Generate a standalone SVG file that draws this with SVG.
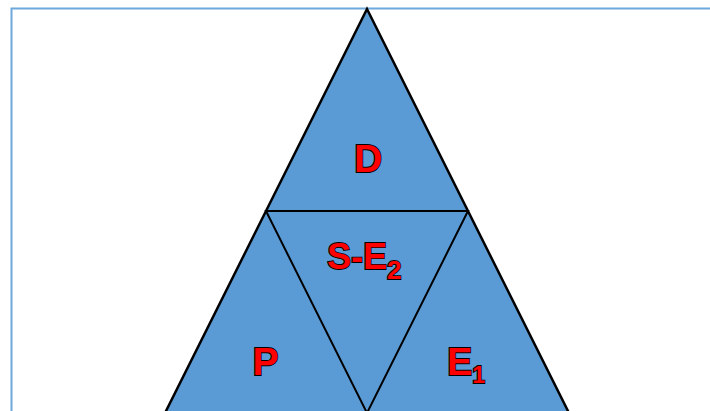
<svg xmlns="http://www.w3.org/2000/svg" width="710" height="411" viewBox="0 0 710 411">
<style>
.tri{fill:#5b9bd5;stroke:#000;stroke-linejoin:miter}
.lbl{font-family:"Liberation Sans",Arial,sans-serif;font-weight:bold;fill:#ff0000;stroke:#000;stroke-width:1.8;paint-order:stroke}
</style>
<rect x="11.5" y="8.5" width="720" height="430" fill="#fff" stroke="#6fa8dc" stroke-width="2"/>
<g id="outer">
<polygon class="tri" points="367,9 569,413 165,413" stroke-width="2.5"/>
</g>
<g id="connectors">
<polygon points="266,211 468,211 367,413" fill="none" stroke="#000" stroke-width="2"/>
</g>
<g id="D"><text class="lbl" x="368" y="172" font-size="39" text-anchor="middle">D</text></g>
<g id="SE2"><text class="lbl" x="327" y="269" font-size="36">S-E<tspan font-size="26" dy="10">2</tspan></text></g>
<g id="P"><text class="lbl" x="265.5" y="375" font-size="39" text-anchor="middle">P</text></g>
<g id="E1"><text class="lbl" x="447" y="375" font-size="38">E<tspan font-size="23" dy="8">1</tspan></text></g>
</svg>
